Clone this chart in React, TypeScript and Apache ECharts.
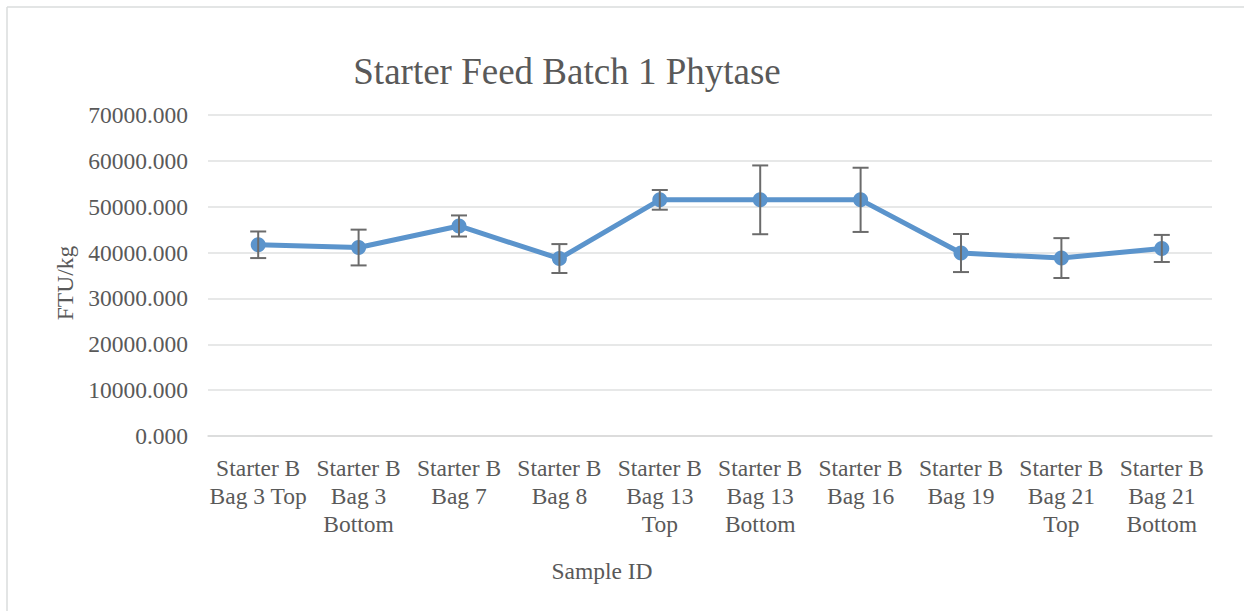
import React, { useEffect, useRef } from "react";
import * as echarts from "echarts";

const categories = [
  "Starter B\nBag 3 Top",
  "Starter B\nBag 3\nBottom",
  "Starter B\nBag 7",
  "Starter B\nBag 8",
  "Starter B\nBag 13\nTop",
  "Starter B\nBag 13\nBottom",
  "Starter B\nBag 16",
  "Starter B\nBag 19",
  "Starter B\nBag 21\nTop",
  "Starter B\nBag 21\nBottom",
];
const phytase = [41700, 41100, 45800, 38700, 51500, 51500, 51500, 39900, 38800, 40900];
const errors = [2900, 3900, 2300, 3150, 2150, 7500, 7000, 4150, 4350, 2950];

const FONT = "'Liberation Serif', 'Times New Roman', serif";
const TEXT = "#595959";

export default function App() {
  const ref = useRef<HTMLDivElement>(null);
  useEffect(() => {
    document.body.style.margin = "0";
    const chart = echarts.init(ref.current!, null, { renderer: "svg" });
    const errData = phytase.map((v, i) => [i, v - errors[i], v + errors[i]]);
    chart.setOption({
      animation: false,
      backgroundColor: "#ffffff",
      textStyle: { fontFamily: FONT },
      grid: { left: 208, right: 32, top: 115, bottom: 175, containLabel: false },
      xAxis: {
        type: "category",
        data: categories,
        boundaryGap: true,
        axisLine: { show: true, lineStyle: { color: "#d9d9d9", width: 1.5 } },
        axisTick: { show: false },
        axisLabel: {
          interval: 0,
          color: TEXT,
          fontFamily: FONT,
          fontSize: 23.5,
          lineHeight: 28,
          margin: 18,
          verticalAlign: "top",
        },
      },
      yAxis: {
        type: "value",
        min: 0,
        max: 70000,
        interval: 10000,
        axisLine: { show: false },
        axisTick: { show: false },
        axisLabel: {
          color: TEXT,
          fontFamily: FONT,
          fontSize: 23.5,
          margin: 20,
          formatter: (v: number) => v.toFixed(3),
        },
        splitLine: { lineStyle: { color: "#dfe1e1", width: 1.5 } },
      },
      graphic: [
        { type: "line", shape: { x1: 7, y1: 7, x2: 1244, y2: 7 }, style: { stroke: "#dadddd", lineWidth: 1.5 } },
        { type: "line", shape: { x1: 7, y1: 7, x2: 7, y2: 611 }, style: { stroke: "#dadddd", lineWidth: 1.5 } },
        {
          type: "text",
          x: 567,
          y: 71,
          style: {
            text: "Starter Feed Batch 1 Phytase",
            fill: TEXT,
            font: `37px ${FONT}`,
            textAlign: "center",
            textVerticalAlign: "middle",
          },
        },
        {
          type: "text",
          x: 65,
          y: 283,
          rotation: Math.PI / 2,
          style: {
            text: "FTU/kg",
            fill: TEXT,
            font: `23.5px ${FONT}`,
            textAlign: "center",
            textVerticalAlign: "middle",
          },
        },
        {
          type: "text",
          x: 602,
          y: 571,
          style: {
            text: "Sample ID",
            fill: TEXT,
            font: `23.5px ${FONT}`,
            textAlign: "center",
            textVerticalAlign: "middle",
          },
        },
      ],
      series: [
        {
          type: "line",
          data: phytase,
          symbol: "circle",
          symbolSize: 15,
          lineStyle: { color: "#5b94cc", width: 5 },
          itemStyle: { color: "#5b94cc" },
          z: 2,
        },
        {
          type: "custom",
          data: errData,
          z: 3,
          renderItem: (params: any, api: any) => {
            const x = api.value(0);
            const lo = api.coord([x, api.value(1)]);
            const hi = api.coord([x, api.value(2)]);
            const cap = 8;
            const st = { stroke: "#6b6b6b", lineWidth: 2 };
            return {
              type: "group",
              children: [
                { type: "line", shape: { x1: hi[0], y1: hi[1], x2: lo[0], y2: lo[1] }, style: st },
                { type: "line", shape: { x1: hi[0] - cap, y1: hi[1], x2: hi[0] + cap, y2: hi[1] }, style: st },
                { type: "line", shape: { x1: lo[0] - cap, y1: lo[1], x2: lo[0] + cap, y2: lo[1] }, style: st },
              ],
            };
          },
        },
      ],
    });
    return () => chart.dispose();
  }, []);
  return <div ref={ref} style={{ width: 1244, height: 611 }} />;
}
